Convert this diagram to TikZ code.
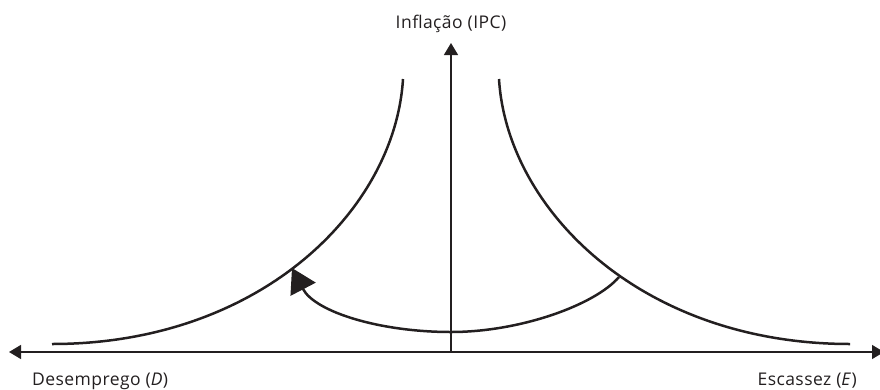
\documentclass[tikz,border=0pt]{standalone}
\usepackage{fontspec}
\setmainfont{Open Sans}[LetterSpace=2.5]
\usetikzlibrary{arrows.meta}
\definecolor{ink}{HTML}{231F20}
\begin{document}
\begin{tikzpicture}[x=1pt,y=-1pt,
  axis/.style={draw=ink,line width=1.3pt},
  curve/.style={draw=ink,line width=2.5pt},
  lbl/.style={text=ink,font=\fontsize{17.5}{20}\selectfont,inner sep=0pt}]
\useasboundingbox (0,0) rectangle (880,389);
% axes
\coordinate (O) at (451,352);
\coordinate (L) at (9,352);
\coordinate (R) at (884,352);
\coordinate (T) at (451,43);
\draw[axis,{Triangle[length=12pt,width=14pt]}-{Triangle[length=12pt,width=14pt]}] (L) -- (R);
\draw[axis,-{Triangle[length=12pt,width=14pt]}] (O) -- (T);
% curves
\coordinate (a1) at (52,344);
\coordinate (a2) at (403,79);
\coordinate (b1) at (850,344);
\coordinate (b2) at (499,79);
\draw[curve] (a1) .. controls (260,344) and (395,210) .. (a2);
\draw[curve] (b1) .. controls (642,344) and (507,210) .. (b2);
% arrow curve
\coordinate (s) at (619,277);
\coordinate (m) at (451,332);
\coordinate (e) at (292,268);
\draw[curve,-{Triangle[length=24pt,width=28pt]}] (s) .. controls (595,305) and (520,332) .. (m) .. controls (380,332) and (315,312) .. (e);
% labels
\node[lbl,anchor=base] (ipc) at (451,28) {Inflação (IPC)};
\node[lbl,anchor=base west] (d) at (32,385) {Desemprego (\textit{D})};
\node[lbl,anchor=base east] (es) at (857,385) {Escassez (\textit{E})};
\end{tikzpicture}
\end{document}
